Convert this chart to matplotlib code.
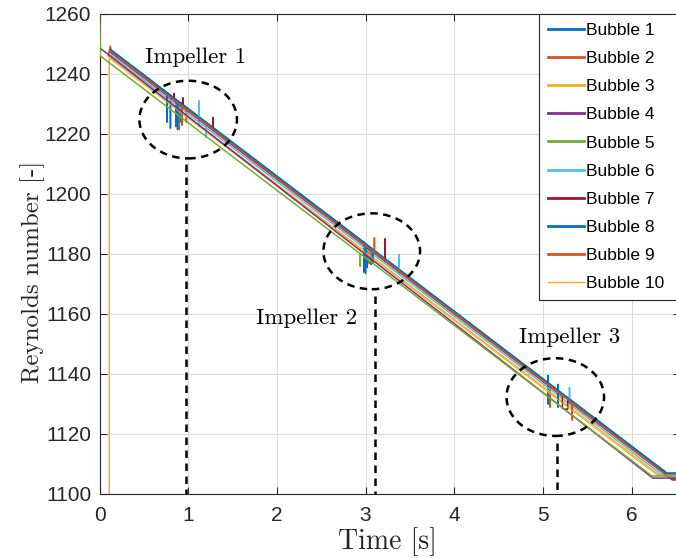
import matplotlib
matplotlib.use("Agg")
import matplotlib.pyplot as plt
from matplotlib.patches import Ellipse

# tiempos [s] y numero de Reynolds [-] de cada burbuja
t1 = [0.12, 0.80, 0.80, 0.80, 0.86, 0.86, 0.86, 0.92, 0.92, 0.92, 2.98, 2.98, 2.98,
      3.02, 3.02, 3.02, 3.06, 3.06, 3.06, 5.06, 5.06, 5.06, 5.06, 6.40, 6.60]
r1 = [1248.3, 1233.0, 1222.0, 1233.0, 1231.6, 1222.5, 1231.6, 1230.3, 1224.0, 1230.3,
      1184.0, 1174.0, 1184.0, 1183.0, 1175.5, 1183.0, 1182.1, 1176.5, 1182.1,
      1137.1, 1139.5, 1130.0, 1137.1, 1107.0, 1107.0]

t2 = [0.10, 0.12, 0.14, 0.90, 0.90, 0.90, 0.98, 0.98, 0.98, 3.04, 3.04, 3.04,
      5.08, 5.08, 5.08, 6.40, 6.60]
r2 = [1246.0, 1249.3, 1247.4, 1230.3, 1221.5, 1230.3, 1228.5, 1224.0, 1228.5,
      1182.1, 1177.0, 1182.1, 1136.2, 1129.0, 1136.2, 1106.5, 1106.5]

t3 = [0.11, 0.11, 6.31, 6.60]
r3 = [1100.0, 1245.7, 1106.3, 1106.3]

t4 = [0.0, 0.01, 0.05, 6.24, 6.60]
r4 = [1260.0, 1248.5, 1247.6, 1105.3, 1105.3]

t5 = [0.0, 0.01, 2.94, 2.94, 2.94, 6.23, 6.60]
r5 = [1260.0, 1246.0, 1180.1, 1176.0, 1180.1, 1106.0, 1106.0]

t6 = [0.12, 1.12, 1.12, 1.12, 1.12, 1.20, 1.20, 1.20, 3.38, 3.38, 3.38,
      5.30, 5.30, 5.30, 6.36, 6.60]
r6 = [1246.5, 1224.0, 1231.0, 1222.5, 1224.0, 1222.2, 1219.0, 1222.2,
      1173.2, 1179.8, 1173.2, 1130.0, 1135.5, 1130.0, 1106.0, 1106.0]

t7 = [0.12, 0.84, 0.84, 0.84, 0.94, 0.94, 0.94, 1.28, 1.28, 1.28, 3.22, 3.22, 3.22,
      5.22, 5.22, 5.28, 5.28, 6.46, 6.60]
r7 = [1247.3, 1231.1, 1233.5, 1231.1, 1228.9, 1232.0, 1228.9, 1221.2, 1225.5, 1221.2,
      1177.6, 1185.0, 1177.6, 1132.6, 1128.5, 1128.2, 1131.2, 1104.7, 1104.7]

t8 = [0.12, 0.76, 0.76, 0.76, 0.88, 0.88, 0.88, 3.00, 3.00, 3.00, 3.08, 3.08, 3.08,
      5.17, 5.17, 5.17, 5.17, 6.40, 6.60]
r8 = [1248.0, 1233.6, 1224.0, 1233.6, 1230.9, 1221.5, 1230.9, 1183.2, 1173.5, 1183.2,
      1181.4, 1177.0, 1181.4, 1134.4, 1136.5, 1129.0, 1134.4, 1106.8, 1106.8]

t9 = [0.12, 0.93, 0.93, 0.93, 3.10, 3.10, 3.10, 5.33, 5.33, 5.33, 6.44, 6.60]
r9 = [1247.5, 1229.3, 1223.0, 1229.3, 1180.5, 1185.3, 1180.5, 1130.3, 1124.7, 1130.3,
      1105.2, 1105.2]

t10 = [0.12, 6.29, 6.60]
r10 = [1245.0, 1106.2, 1106.2]

tiempos = [t1, t2, t3, t4, t5, t6, t7, t8, t9, t10]
reynolds = [r1, r2, r3, r4, r5, r6, r7, r8, r9, r10]
etiquetas = ["Bubble %d" % i for i in range(1, 11)]

# zonas de los impulsores: centro (t, Re), ancho, alto
impulsores = ["Impeller 1", "Impeller 2", "Impeller 3"]
centros = [(1.00, 1224.8), (3.07, 1180.9), (5.14, 1132.3)]
anchos = [1.10, 1.09, 1.10]
altos = [25.9, 25.3, 25.9]
t_linea = [0.97, 3.11, 5.16]
re_linea = [1210.0, 1166.0, 1117.0]
pos_texto = [(1.086, 1243.6), (2.335, 1156.7), (5.30, 1150.3)]

colores = ["#0072BD", "#D95319", "#EDB120", "#7E2F8E", "#77AC30",
           "#4DBEEE", "#A2142F", "#0072BD", "#D95319", "#EDB120"]

plt.rcParams["font.family"] = ["Liberation Sans", "DejaVu Sans"]
gris = "#262626"

fig = plt.figure(figsize=(6.76, 5.59), dpi=100)
ax = fig.add_axes([0.1472, 0.1163, 0.8592, 0.8587])

for i in range(10):
    lw = 0.6 if i == 9 else 1.1
    z = 3 if i in (3, 4) else 2
    ax.plot(tiempos[i], reynolds[i], color=colores[i], lw=lw, zorder=z,
            label=etiquetas[i])

guion = (0, (3, 2.2))
for i in range(3):
    e = Ellipse(centros[i], anchos[i], altos[i], fill=False, ec="black",
                lw=1.8, ls=guion, zorder=5)
    ax.add_patch(e)
    ax.plot([t_linea[i], t_linea[i]], [re_linea[i], 1100], color="black",
            lw=1.8, ls=guion, zorder=5)
    ax.text(pos_texto[i][0], pos_texto[i][1], impulsores[i], family="cmr10",
            fontsize=16.5, ha="center", va="baseline", color="black")

ax.set_xlim(0, 6.55)
ax.set_ylim(1100, 1260)
ax.set_xticks(range(0, 7))
ax.set_yticks(range(1100, 1261, 20))
ax.grid(True, color="#dcdcdc", lw=0.8)
ax.set_axisbelow(True)
ax.tick_params(direction="in", length=5, width=0.8, colors=gris, labelsize=15,
               top=True, right=True)
ax.tick_params(axis="x", pad=8.5)
ax.tick_params(axis="y", pad=6)
for s in ax.spines.values():
    s.set_color(gris)
    s.set_linewidth(0.8)

ax.set_xlabel("Time [s]", family="cmr10", fontsize=20, color=gris)
ax.xaxis.set_label_coords(0.495, -0.069)
ax.set_ylabel("Reynolds number [-]", family="cmr10", fontsize=18, color=gris)
ax.yaxis.set_label_coords(-0.094, 0.4625)

leg = ax.legend(loc="upper left", bbox_to_anchor=(0.757, 0, 0.243, 1.0),
                mode="expand", borderaxespad=0, fontsize=12.5, handlelength=2.1,
                handletextpad=0.12, labelspacing=0.75, borderpad=0.5,
                fancybox=False, framealpha=1)
leg.get_frame().set_edgecolor(gris)
leg.get_frame().set_linewidth(0.8)
for linea in leg.get_lines():
    linea.set_linewidth(2.0)
leg.get_lines()[9].set_linewidth(1.0)

fig.savefig("out.png", dpi=100)
